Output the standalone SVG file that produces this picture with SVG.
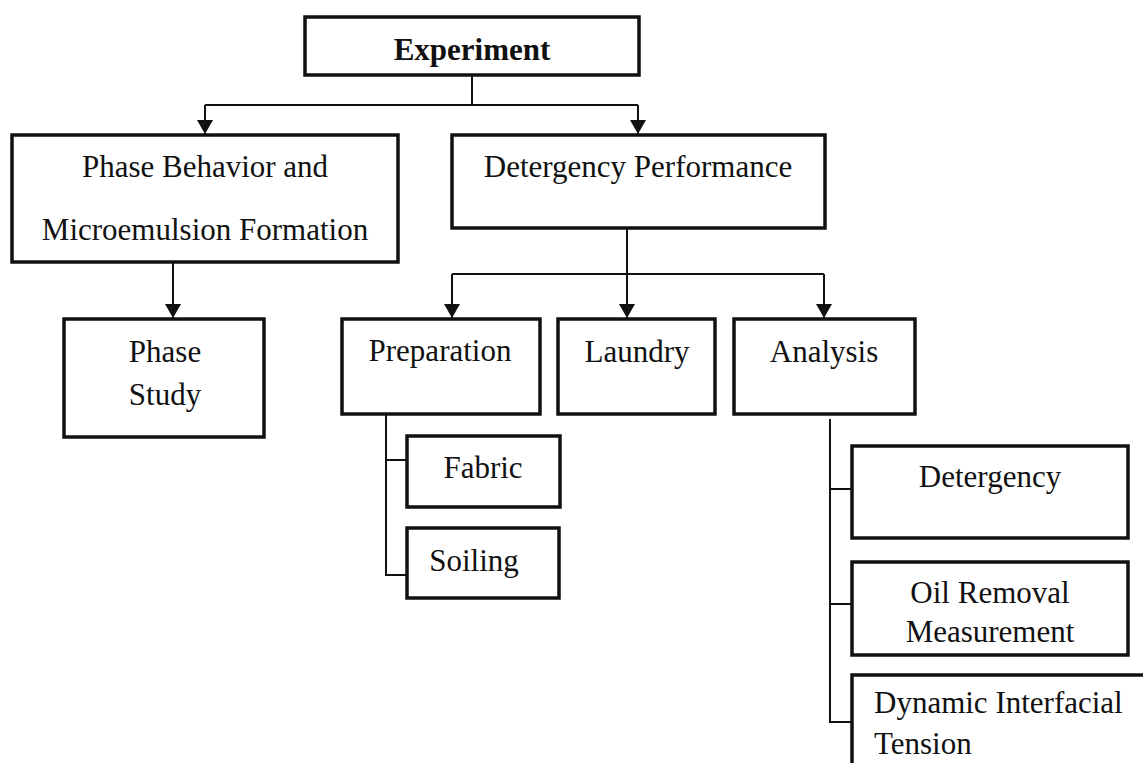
<svg xmlns="http://www.w3.org/2000/svg" width="1143" height="763" viewBox="0 0 1143 763">
<style>
.box{fill:#fff;stroke:#111;stroke-width:3.5}
.t{font-family:"Liberation Serif","Times New Roman",serif;font-size:31px;fill:#111;text-anchor:middle}
.b{font-weight:bold}
.l{text-anchor:start}
.c{fill:none;stroke:#111;stroke-width:2}
</style>
<defs>
<marker id="ah" markerUnits="userSpaceOnUse" markerWidth="16" markerHeight="14" viewBox="0 0 16 14" refX="8" refY="14" orient="0">
<path d="M0,0 L16,0 L8,14 Z" fill="#111"/>
</marker>
</defs>
<rect width="1143" height="763" fill="#fff"/>
<g id="connectors">
<path class="c" d="M472,75 V105"/>
<path class="c" d="M205,105 H638"/>
<path class="c" d="M205,105 V134" marker-end="url(#ah)"/>
<path class="c" d="M638,105 V134" marker-end="url(#ah)"/>
<path class="c" d="M173,262 V318" marker-end="url(#ah)"/>
<path class="c" d="M627,228 V274"/>
<path class="c" d="M452,274 H824"/>
<path class="c" d="M452,274 V318" marker-end="url(#ah)"/>
<path class="c" d="M627,274 V318" marker-end="url(#ah)"/>
<path class="c" d="M824,274 V318" marker-end="url(#ah)"/>
<path class="c" d="M386,414 V575 H407 M386,460 H407"/>
<path class="c" d="M830,419 V722 H852 M830,489 H852 M830,604 H852"/>
</g>
<g id="experiment">
<rect class="box" x="305" y="17" width="334" height="58"/>
<text class="t b" x="472" y="60">Experiment</text>
</g>
<g id="phase-behavior">
<rect class="box" x="12" y="135" width="386" height="127"/>
<text class="t" x="205" y="177">Phase Behavior and</text>
<text class="t" x="205" y="240">Microemulsion Formation</text>
</g>
<g id="detergency-performance">
<rect class="box" x="452" y="135" width="373" height="93"/>
<text class="t" x="638" y="177">Detergency Performance</text>
</g>
<g id="phase-study">
<rect class="box" x="64" y="319" width="200" height="118"/>
<text class="t" x="165" y="362">Phase</text>
<text class="t" x="165" y="405">Study</text>
</g>
<g id="preparation">
<rect class="box" x="342" y="319" width="198" height="95"/>
<text class="t" x="440" y="361">Preparation</text>
</g>
<g id="laundry">
<rect class="box" x="558" y="319" width="157" height="95"/>
<text class="t" x="637" y="362">Laundry</text>
</g>
<g id="analysis">
<rect class="box" x="734" y="319" width="181" height="95"/>
<text class="t" x="824" y="362">Analysis</text>
</g>
<g id="fabric">
<rect class="box" x="407" y="436" width="153" height="71"/>
<text class="t" x="483" y="478">Fabric</text>
</g>
<g id="soiling">
<rect class="box" x="407" y="528" width="152" height="70"/>
<text class="t" x="474" y="571">Soiling</text>
</g>
<g id="detergency">
<rect class="box" x="852" y="446" width="276" height="92"/>
<text class="t" x="990" y="487">Detergency</text>
</g>
<g id="oil-removal">
<rect class="box" x="852" y="562" width="276" height="93"/>
<text class="t" x="990" y="603">Oil Removal</text>
<text class="t" x="990" y="642">Measurement</text>
</g>
<g id="dynamic-interfacial-tension">
<rect class="box" x="852" y="675" width="320" height="120"/>
<text class="t l" x="874" y="713">Dynamic Interfacial</text>
<text class="t l" x="874" y="754">Tension</text>
</g>
</svg>
